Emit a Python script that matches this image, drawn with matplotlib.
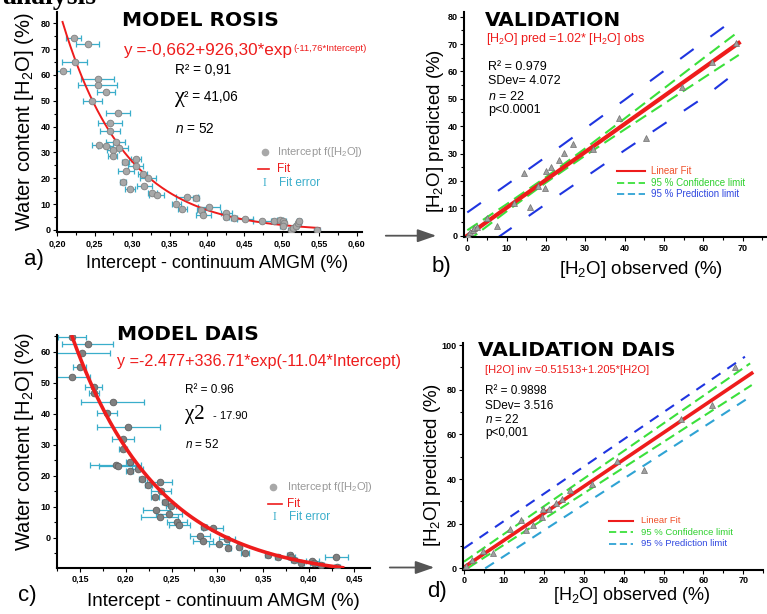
import numpy as np
import matplotlib.pyplot as plt
from matplotlib.lines import Line2D
from matplotlib.patches import FancyArrowPatch

plt.rcParams['font.family'] = ['Liberation Sans', 'DejaVu Sans']
plt.rcParams['mathtext.fontset'] = 'custom'
plt.rcParams['mathtext.rm'] = 'Liberation Sans'
plt.rcParams['mathtext.it'] = 'Liberation Sans:italic'
plt.rcParams['mathtext.bf'] = 'Liberation Sans:bold'

# ---- panel a : model ROSIS ----
a_x = [0.222, 0.2405, 0.2236, 0.207, 0.254, 0.254, 0.2646, 0.2468, 0.2806, 0.2704,
       0.2704, 0.278, 0.256, 0.265, 0.283, 0.274, 0.274, 0.305, 0.291, 0.305,
       0.314, 0.321, 0.292, 0.288, 0.316, 0.297, 0.327, 0.333, 0.373, 0.385,
       0.359, 0.367, 0.403, 0.392, 0.395, 0.426, 0.426, 0.436, 0.451, 0.474,
       0.489, 0.498, 0.501, 0.503, 0.501, 0.512, 0.515, 0.519, 0.522, 0.523, 0.547]
a_y = [74.5, 72.1, 64.9, 61.5, 58.3, 56.3, 53.4, 50.1, 45.4, 41.3,
       38.2, 34.2, 33.0, 32.6, 31.6, 31.0, 28.6, 27.5, 26.3, 24.9,
       21.5, 20.0, 23.0, 18.7, 17.2, 16.0, 14.5, 13.5, 12.6, 12.5,
       10.1, 8.3, 8.9, 7.7, 5.8, 6.7, 5.2, 4.6, 4.1, 3.5,
       3.6, 3.9, 3.4, 2.8, 1.5, 0.0, 0.9, 1.7, 2.6, 3.5, 0.0]
a_xerr = [0.010, 0.0156, 0.0167, 0.0098, 0.0223, 0.026, 0.012, 0.013, 0.016, 0.0156,
          0.013, 0.013, 0.009, 0.010, 0.012, 0.008, 0.006, 0.0067, 0.005, 0.010,
          0.006, 0.0107, 0.011, 0.004, 0.010, 0.0067, 0.006, 0.010, 0.0145, 0.004,
          0.006, 0.006, 0.0145, 0.005, 0.010, 0.008, 0.004, 0.004, 0.011, 0.0127,
          0.004, 0.004, 0.004, 0.003, 0.003, 0.004, 0.003, 0.003, 0.003, 0.003, 0.004]
a_fit = (-0.662, 926.30, 11.76)      # y = A + B*exp(-k*x)
a_fit_range = (0.207, 0.55)

# ---- panel c : model DAIS ----
c_x = [0.141, 0.1583, 0.152, 0.1493, 0.141, 0.1648, 0.1655, 0.1854, 0.1789, 0.2027,
       0.1969, 0.197, 0.2041, 0.1889, 0.191, 0.2041, 0.2128, 0.2179, 0.2245, 0.237,
       0.2389, 0.2317, 0.2426, 0.2498, 0.2334, 0.2469, 0.2368, 0.2558, 0.2584, 0.2855,
       0.2956, 0.2814, 0.2843, 0.3104, 0.3018, 0.312, 0.3242, 0.33, 0.355, 0.366,
       0.379, 0.381, 0.384, 0.392, 0.404, 0.406, 0.413, 0.430, 0.431]
c_y = [64.8, 62.4, 59.5, 55.2, 51.7, 48.5, 46.6, 43.7, 40.3, 35.8,
       31.9, 28.5, 24.5, 23.5, 23.1, 21.4, 22.2, 18.8, 16.9, 17.8,
       14.9, 13.2, 11.6, 10.3, 8.9, 7.5, 6.6, 5.2, 4.1, 3.3,
       3.2, 0.6, -1.1, -0.5, -2.2, -3.3, -2.9, -4.8, -5.6, -6.3,
       -5.6, -6.3, -7.2, -8.3, -7.5, -8.3, -8.8, -6.1, -9.4]
c_xerr = [0.0157, 0.028, 0.031, 0.0076, 0.020, 0.0094, 0.0054, 0.034, 0.011, 0.0347,
          0.0117, 0.004, 0.004, 0.0276, 0.020, 0.004, 0.006, 0.003, 0.004, 0.0135,
          0.011, 0.004, 0.003, 0.0054, 0.0144, 0.0144, 0.020, 0.011, 0.0117, 0.003,
          0.011, 0.011, 0.011, 0.009, 0.011, 0.003, 0.003, 0.0045, 0.003, 0.003,
          0.003, 0.004, 0.003, 0.003, 0.007, 0.005, 0.004, 0.0126, 0.003]
c_curve = (-13.2, 344.0, 10.5)       # curve as drawn in the picture
c_fit_range = (0.1413, 0.437)

# ---- panel b : validation ROSIS ----
b_obs = [0.25, 0.7, 1.4, 1.8, 2.4, 5.1, 7.5, 11.9, 15.9, 14.5, 17.9, 19.7,
         19.9, 21.4, 23.3, 24.7, 26.9, 32.0, 38.5, 45.3, 54.6, 62.2, 68.3]
b_pred = [0.2, 1.2, 2.1, 2.9, 3.3, 6.3, 3.7, 11.8, 10.6, 22.8, 18.1, 17.5,
          23.6, 25.0, 27.6, 30.1, 33.5, 31.5, 42.9, 35.6, 54.2, 63.4, 70.5]
b_slope = 1.02
b_band_x = [0, 10, 20, 30, 40, 50, 60, 69]
b_conf_hi = [2.0, 11.5, 21.4, 31.9, 42.8, 53.8, 64.8, 74.6]
b_conf_lo = [-2.0, 8.9, 19.4, 29.3, 38.8, 48.2, 57.6, 66.0]
b_pred_hi = [8.5, 18.6, 28.8, 39.2, 49.6, 60.2, 70.8, 80.2]
b_pred_lo = [-8.5, 1.6, 11.6, 21.4, 31.2, 40.8, 50.4, 60.4]

# ---- panel d : validation DAIS ----
d_obs = [0.4, 1.9, 4.8, 7.2, 11.5, 14.2, 15.5, 17.4, 19.5, 19.7,
         21.2, 23.1, 24.5, 26.6, 32.0, 38.3, 45.2, 54.4, 62.1, 67.9]
d_pred = [1.2, 3.7, 7.9, 6.7, 17.5, 21.6, 17.2, 19.3, 23.1, 26.6,
          26.7, 29.4, 30.9, 35.1, 37.6, 48.1, 44.0, 66.9, 73.0, 90.0]
d_fit = (0.51513, 1.205)
d_conf_hi = ([0, 71.7], [3.0, 91.8])
d_conf_lo = ([1.1, 72.1], [0.3, 82.1])
d_pred_hi = ([0, 70.4], [9.0, 94.8])
d_pred_lo = ([5.3, 72.1], [0.0, 77.3])

RED = '#ee1c1c'
TEAL = '#3aaecb'
BLUE = '#1f35e0'
GREEN = '#3be03b'
CYAN = '#2fa3d4'

W, H = 767, 614
fig = plt.figure(figsize=(W / 100, H / 100), dpi=100)


def fx(px):
    return px / W


def fy(py):
    return 1 - py / H


def box(l, t, r, b):
    return [fx(l), fy(b), (r - l) / W, (b - t) / H]


def txt(x, y, s, **kw):
    kw.setdefault('va', 'center')
    kw.setdefault('ha', 'left')
    return fig.text(fx(x), fy(y), s, **kw)


def legline(x0, x1, y, **kw):
    fig.add_artist(Line2D([fx(x0), fx(x1)], [fy(y), fy(y)], transform=fig.transFigure, **kw))


def legdot(x, y):
    fig.add_artist(Line2D([fx(x)], [fy(y)], transform=fig.transFigure, marker='o', ms=4.5,
                          mfc='#a8a8a8', mec='#a8a8a8', lw=0))


def style(ax, xt, xl, xm, yt, ym):
    for s in ['top', 'right']:
        ax.spines[s].set_visible(False)
    for s in ['left', 'bottom']:
        ax.spines[s].set_linewidth(1.5)
    ax.set_xticks(xt, labels=xl, fontsize=6.5, fontweight='bold')
    ax.set_xticks(xm, minor=True)
    ax.set_yticks(yt, labels=[str(int(v)) for v in yt], fontsize=6.5, fontweight='bold')
    ax.set_yticks(ym, minor=True)
    ax.tick_params(which='major', length=3, width=0.8, pad=2)
    ax.tick_params(which='minor', length=2, width=0.8)


# ---------------- panel a ----------------
axA = fig.add_axes(box(57.3, 11.7, 362, 232.3))
axA.errorbar(a_x, a_y, xerr=a_xerr, fmt='none', ecolor=TEAL, elinewidth=0.9,
             capsize=2, capthick=0.9, zorder=2)
xx = np.linspace(*a_fit_range, 200)
axA.plot(xx, a_fit[0] + a_fit[1] * np.exp(-a_fit[2] * xx), color=RED, lw=1.4, zorder=3)
axA.plot(a_x, a_y, 'o', ms=4.8, mfc='#a8a8a8', mec='#808080', mew=0.6, zorder=4)
axA.set_xlim(0.20, 0.607)
axA.set_ylim(-0.9, 84.5)
xt = np.arange(0.20, 0.601, 0.05)
style(axA, xt, [f'{v:.2f}'.replace('.', ',') for v in xt], np.arange(0.225, 0.61, 0.05),
      np.arange(0, 81, 10), np.arange(5, 85, 10))

txt(200, 20.7, 'MODEL ROSIS', ha='center', family='DejaVu Sans', fontweight='bold', fontsize=14.5)
eq = txt(122.7, 50, 'y =-0,662+926,30*exp', color=RED, fontsize=12.3)
axA.annotate('(-11,76*Intercept)', xy=(1, 1), xycoords=eq, xytext=(1, -1),
             textcoords='offset points', color=RED, fontsize=6.8, va='top', ha='left')
txt(175, 70, 'R² = 0,91', fontsize=9.8)
txt(175, 97.3, 'χ', fontsize=16, family='Liberation Serif')
txt(183.5, 97, '² = 41,06', fontsize=9.8)
txt(175, 129.3, r'$n$ = 52', fontsize=9.8)

# legend a
legdot(265, 151.7)
txt(277.3, 151.7, r'Intercept f([H$_\mathregular{2}$O])', color='#9a9a9a', fontsize=8)
legline(258, 269, 169.3, color=RED, lw=1.2)
txt(277.3, 169.3, 'Fit', color=RED, fontsize=8.5)
txt(264, 182.7, 'I', color=TEAL, fontsize=8.5, ha='center', family='Liberation Serif')
txt(279.3, 182.7, 'Fit error', color=TEAL, fontsize=8.5)

txt(24, 121.5, r'Water content [H$_\mathregular{2}$O] (%)', rotation=90, ha='center', fontsize=14.5)
txt(217.5, 263.3, 'Intercept - continuum AMGM (%)', ha='center', fontsize=13)
txt(24, 260, 'a)', fontsize=16)

# ---------------- panel b ----------------
axB = fig.add_axes(box(464.3, 11.7, 766.7, 237.3))
axB.plot(b_band_x, b_pred_hi, color=BLUE, lw=1.5, dashes=(8, 10), zorder=1)
axB.plot(b_band_x, b_pred_lo, color=BLUE, lw=1.5, dashes=(8, 10), zorder=1)
axB.plot(b_band_x, b_conf_hi, color=GREEN, lw=1.5, dashes=(6, 3), zorder=1)
axB.plot(b_band_x, b_conf_lo, color=GREEN, lw=1.5, dashes=(6, 3), zorder=1)
xb = np.array([0, 69.0])
axB.plot(xb, b_slope * xb, color=RED, lw=3, zorder=2)
axB.plot(b_obs, b_pred, '^', ms=5, mfc='#a0a0a0', mec='#707070', mew=0.5, zorder=3)
axB.set_xlim(-0.76, 76.1)
axB.set_ylim(-0.58, 81.8)
style(axB, np.arange(0, 71, 10), [str(v) for v in range(0, 71, 10)], np.arange(5, 80, 10),
      np.arange(0, 81, 10), np.arange(5, 81, 10))

txt(485, 20.7, 'VALIDATION', family='DejaVu Sans', fontweight='bold', fontsize=14.5)
txt(486, 39.3, r'[H$_\mathregular{2}$O] pred =1.02* [H$_\mathregular{2}$O] obs', color=RED, fontsize=9)
txt(488.3, 66.7, 'R² = 0.979', fontsize=9)
txt(488.3, 81, 'SDev= 4.072', fontsize=9)
txt(488.3, 96.7, r'$n$ = 22', fontsize=9)
txt(488.3, 110, 'p<0.0001', fontsize=9)

legline(617, 645, 170.7, color=RED, lw=1.5)
txt(650.7, 170.7, 'Linear Fit', color='#f0502a', fontsize=7)
legline(617, 645, 182.7, color=GREEN, lw=1.3, dashes=(4, 2))
txt(650.7, 182.7, '95 % Confidence limit', color='#2fd02f', fontsize=7)
legline(617, 645, 194.3, color=CYAN, lw=1.3, dashes=(4, 2))
txt(650.7, 194.3, '95 % Prediction limit', color='#3048e0', fontsize=7)

txt(436, 130.8, r'[H$_\mathregular{2}$O] predicted (%)', rotation=90, ha='center', fontsize=13.5)
txt(641, 269.3, r'[H$_\mathregular{2}$O] observed (%)', ha='center', fontsize=13.5)
txt(431.7, 266.7, 'b)', fontsize=16)

# ---------------- panel c ----------------
axC = fig.add_axes(box(57.3, 335, 370, 567.7))
axC.errorbar(c_x, c_y, xerr=c_xerr, fmt='none', ecolor=TEAL, elinewidth=0.9,
             capsize=2, capthick=0.9, zorder=2)
axC.plot(c_x, c_y, 'o', ms=4.8, mfc='#808080', mec='#606060', mew=0.6, zorder=3)
xc = np.linspace(*c_fit_range, 200)
axC.plot(xc, c_curve[0] + c_curve[1] * np.exp(-c_curve[2] * xc), color=RED, lw=2.6, zorder=4)
axC.set_xlim(0.1283, 0.467)
axC.set_ylim(-9.7, 65.4)
xt = np.arange(0.15, 0.451, 0.05)
style(axC, xt, [f'{v:.2f}'.replace('.', ',') for v in xt], np.arange(0.125, 0.47, 0.05),
      np.arange(0, 61, 10), np.arange(-5, 66, 10))

txt(116.7, 335, 'MODEL DAIS', family='DejaVu Sans', fontweight='bold', fontsize=14.5)
txt(116.7, 361.7, 'y =-2.477+336.71*exp(-11.04*Intercept)', color=RED, fontsize=11.6)
txt(185, 390, 'R² = 0.96', fontsize=8.5)
txt(185, 415, 'χ2', fontsize=15, family='Liberation Serif')
txt(213, 416, '- 17.90', fontsize=8)
txt(185, 445, r'$n$ = 52', fontsize=8.5)

legdot(273.3, 486.7)
txt(287.3, 486.7, r'Intercept f([H$_\mathregular{2}$O])', color='#9a9a9a', fontsize=8)
legline(268, 282, 504, color=RED, lw=1.2)
txt(287.3, 504, 'Fit', color=RED, fontsize=8.5)
txt(274, 517.3, 'I', color=TEAL, fontsize=8.5, ha='center', family='Liberation Serif')
txt(289.3, 517.3, 'Fit error', color=TEAL, fontsize=8.5)

txt(24, 441.7, r'Water content [H$_\mathregular{2}$O] (%)', rotation=90, ha='center', fontsize=14.5)
txt(223, 601.7, 'Intercept - continuum AMGM (%)', ha='center', fontsize=13.5)
txt(18, 595, 'c)', fontsize=16)

# ---------------- panel d ----------------
axD = fig.add_axes(box(463.3, 343.3, 763.3, 569.5))
axD.plot(*d_pred_hi, color=BLUE, lw=1.5, dashes=(5, 4), zorder=1)
axD.plot(*d_pred_lo, color=CYAN, lw=1.5, dashes=(5, 4), zorder=1)
axD.plot(*d_conf_hi, color=GREEN, lw=1.5, dashes=(5, 2.5), zorder=1)
axD.plot(*d_conf_lo, color=GREEN, lw=1.5, dashes=(5, 2.5), zorder=1)
xd = np.array([0.5, 72.1])
axD.plot(xd, d_fit[0] + d_fit[1] * xd, color=RED, lw=2.6, zorder=2)
axD.plot(d_obs, d_pred, '^', ms=5, mfc='#a0a0a0', mec='#707070', mew=0.5, zorder=3)
axD.set_xlim(-0.18, 75)
axD.set_ylim(-0.5, 100.8)
style(axD, np.arange(0, 71, 10), [str(v) for v in range(0, 71, 10)], np.arange(5, 76, 10),
      np.arange(0, 101, 20), np.arange(10, 101, 20))

txt(478.3, 350, 'VALIDATION DAIS', family='DejaVu Sans', fontweight='bold', fontsize=14.5)
txt(485, 370, '[H2O] inv =0.51513+1.205*[H2O]', color=RED, fontsize=8)
txt(485, 390.7, 'R² = 0.9898', fontsize=8.5)
txt(485, 406, 'SDev= 3.516', fontsize=8.5)
txt(485, 419.3, r'$n$ = 22', fontsize=8.5)
txt(485, 433.3, 'p<0,001', fontsize=8.5)

legline(609, 633, 520.7, color=RED, lw=1.5)
txt(640.7, 520.7, 'Linear Fit', color='#f0502a', fontsize=6.8)
legline(609, 633, 532.3, color=GREEN, lw=1.3, dashes=(4, 2))
txt(640.7, 532.3, '95 % Confidence limit', color='#2fd02f', fontsize=6.8)
legline(609, 633, 544, color=CYAN, lw=1.3, dashes=(4, 2))
txt(640.7, 544, '95 % Prediction limit', color='#3048e0', fontsize=6.8)

txt(433, 465, r'[H$_\mathregular{2}$O] predicted (%)', rotation=90, ha='center', fontsize=13.5)
txt(631.7, 596, r'[H$_\mathregular{2}$O] observed (%)', ha='center', fontsize=13)
txt(426.7, 591.7, 'd)', fontsize=16)

# arrows between panels and the cut heading
for x0, x1, y in [(383, 439, 235.7), (387, 437, 567.5)]:
    fig.add_artist(FancyArrowPatch((fx(x0), fy(y)), (fx(x1), fy(y)), transform=fig.transFigure,
                                   arrowstyle='-|>,head_length=0.95,head_width=0.33',
                                   mutation_scale=12, color='#555555', lw=1.3))
fig.text(fx(2), fy(4), 'analysis', family='Liberation Serif', fontweight='bold',
         fontsize=20, va='baseline', ha='left')

fig.savefig('out.png', dpi=100)
